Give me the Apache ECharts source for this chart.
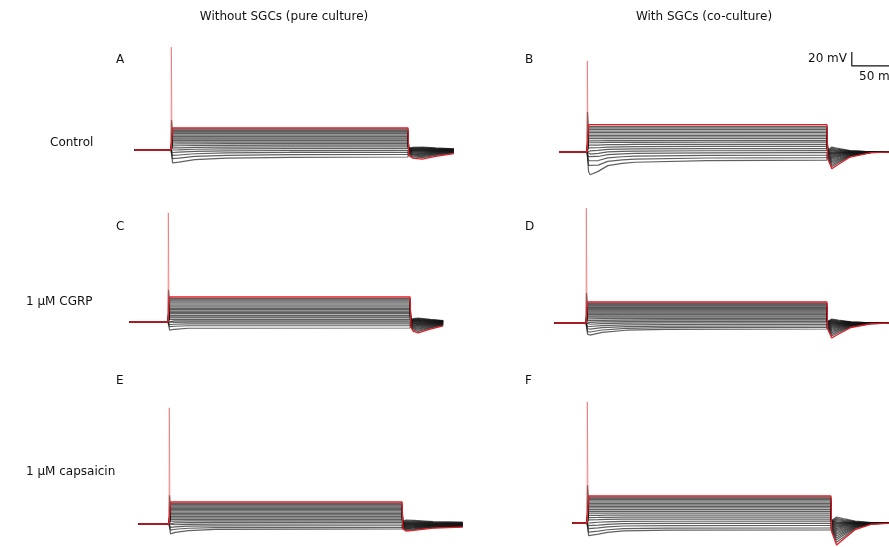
<!DOCTYPE html>
<html>
<head>
<meta charset="utf-8">
<script src="https://cdn.jsdelivr.net/npm/echarts@6/dist/echarts.min.js"></script>
<style>
html, body { margin: 0; padding: 0; background: #fff; }
#chart { width: 889px; height: 547px; }
</style>
</head>
<body>
<div id="chart"></div>
<script>
// Membrane potential responses to a family of current steps.
// Every trace: rest -> step (onset at 0 ms, 300 ms long) -> recovery.
const restMV = -60;
const stepMS = 300;

// ---- A: pure culture, control ----
const startA = -46;
const spikeA = [87, -17];            // [red transient peak, grey transient peak] (mV)
const plateauA = [-28.6, -30.3, -32, -33.7, -35.4, -37.1, -38.9, -40.7, -42.6, -44.6, -46.6, -48.7, -50.9, -53.1, -55.6, -58, -60.6, -63.3, -66.4, -70];
const sagA = [0, 0, 0, 0, 0, 0, 0, 0, 0, 0, 0, 0, 0.5, 1, 1.5, 2, 3, 4.5, 6, 8.5];
const postA = [-13, -11, -9.5, -8, -7, -6, -5, -4, -3.2, -2.5, -1.8, -1.2, -0.6, 0, 0.6, 1.2, 2, 2.8, 3.5, 4.3];
const sagTimeA = [2, 10, 30, 70, 150, 300];
const sagFracA = [1, 0.85, 0.45, 0.2, 0.05, 0];
const postTimeA = [1, 6, 18, 35, 58];
const postFracA = [0.6, 0.9, 1, 0.7, 0.4];

// ---- B: co-culture, control ----
const startB = -35;
const spikeB = [70, -3];
const plateauB = [-21, -23.5, -25.5, -27.8, -30, -32, -34.3, -36.5, -38.6, -41, -43.6, -46, -49, -52, -55, -58, -61, -64.5, -68, -71.5];
const sagB = [0, 0, 0, 0, 0, 0, 0, 0, 0, 0, 0.5, 1, 1.5, 2.5, 3.5, 5, 7, 10, 14, 21];
const postB = [-24, -21, -18.5, -16, -14, -12, -10, -8.5, -7, -5.5, -4, -3, -2, -1, 0, 1.2, 2.5, 3.8, 5.3, 7];
const sagTimeB = [2, 4, 14, 26, 44, 60, 150, 300];
const sagFracB = [0.8, 1, 0.77, 0.38, 0.23, 0.15, 0.04, 0];
const postTimeB = [1, 6, 12, 29, 55, 85];
const postFracB = [0.4, 1, 0.8, 0.3, 0.04, 0];

// ---- C: pure culture, 1 µM CGRP ----
const startC = -48;
const spikeC = [96, -14];
const plateauC = [-24.3, -26.5, -28.4, -30.2, -32.5, -34.3, -36.1, -38.4, -40.5, -42.2, -44.4, -46.3, -48.1, -50.4, -52.5, -54.2, -56.4, -58.3, -60.2, -62.6, -65.2, -68.6];
const sagC = [0, 0, 0, 0, 0, 0, 0, 0, 0, 0, 0, 0, 0, 0, 0, 0, 0, 0, 0.5, 1, 1.5, 3];
const postC = [-15.7, -13.5, -11.8, -10.2, -8.8, -7.5, -6.3, -5.2, -4.2, -3.3, -2.4, -1.6, -0.8, 0, 0.7, 1.4, 2.1, 2.8, 3.5, 4.2, 5, 5.7];
const sagTimeC = [2, 8, 25, 300];
const sagFracC = [1, 0.6, 0.1, 0];
const postTimeC = [1, 4, 10, 25, 41];
const postFracC = [0.5, 0.85, 1, 0.65, 0.35];

// ---- D: co-culture, 1 µM CGRP ----
const startD = -39;
const spikeD = [104, -17];
const plateauD = [-30, -31.5, -33, -34.5, -36, -37.6, -39.2, -40.8, -42.5, -44.2, -46, -47.8, -49.7, -51.6, -53.6, -55.6, -57.7, -59.8, -62, -64.2, -66.4, -68.6];
const sagD = [0, 0, 0, 0, 0, 0, 0, 0, 0, 0, 0, 0, 0, 0, 0.5, 1, 1.5, 2, 3, 4.5, 6.5, 8.6];
const postD = [-21.4, -18.6, -16.2, -14, -12.1, -10.4, -8.9, -7.5, -6.2, -5, -3.9, -2.9, -2, -1.1, -0.3, 0.5, 1.3, 2.1, 2.9, 3.8, 4.7, 5.7];
const sagTimeD = [2, 5, 20, 50, 100, 300];
const sagFracD = [0.9, 1, 0.55, 0.2, 0.05, 0];
const postTimeD = [1, 6, 14, 30, 55, 85];
const postFracD = [0.4, 1, 0.75, 0.3, 0.05, 0];

// ---- E: pure culture, 1 µM capsaicin ----
const startE = -39;
const spikeE = [106, -19];
const plateauE = [-28.6, -30.4, -32.2, -34, -35.8, -37.6, -39.4, -41.3, -43.2, -45.1, -47.1, -49.1, -51.2, -53.3, -55.5, -57.7, -60, -62.3, -64.7, -67.1];
const sagE = [0, 0, 0, 0, 0, 0, 0, 0, 0, 0, 0, 0, 0, 0, 0.5, 1, 1.5, 2.5, 4, 7];
const postE = [-10, -8.8, -7.7, -6.7, -5.8, -5, -4.2, -3.4, -2.7, -2, -1.3, -0.6, 0, 0.6, 1.3, 2, 2.8, 3.6, 4.6, 5.7];
const sagTimeE = [2, 8, 25, 60, 300];
const sagFracE = [1, 0.7, 0.35, 0.1, 0];
const postTimeE = [1, 5, 15, 40, 78];
const postFracE = [0.7, 1, 0.9, 0.6, 0.45];

// ---- F: co-culture, 1 µM capsaicin ----
const startF = -18;
const spikeF = [113, -6];
const plateauF = [-21.4, -23, -24.7, -26.4, -28.2, -30, -32, -34, -36.2, -38.5, -40.9, -43.4, -46, -48.7, -51.5, -54.4, -57.4, -60.5, -63.6, -67, -70];
const sagF = [0, 0, 0, 0, 0, 0, 0, 0, 0, 0, 0, 0, 0, 0.5, 1, 1.5, 2.5, 4, 5.5, 7.5, 10];
const postF = [-31.4, -27.5, -24, -21, -18.3, -15.8, -13.5, -11.4, -9.5, -7.7, -6, -4.5, -3.1, -1.8, -0.6, 0.6, 1.8, 3.2, 4.8, 6.6, 8.6];
const sagTimeF = [2, 4, 14, 25, 45, 100, 300];
const sagFracF = [0.8, 1, 0.6, 0.35, 0.12, 0.03, 0];
const postTimeF = [1, 7, 15, 30, 50, 80];
const postFracF = [0.4, 1, 0.75, 0.3, 0.05, 0];

// Scale bar
const scaleBarMV = 20;
const scaleBarMS = 50;

const panels = [
  { start: startA, spike: spikeA, plateau: plateauA, sag: sagA, post: postA, sagT: sagTimeA, sagF: sagFracA, postT: postTimeA, postF: postFracA },
  { start: startB, spike: spikeB, plateau: plateauB, sag: sagB, post: postB, sagT: sagTimeB, sagF: sagFracB, postT: postTimeB, postF: postFracB },
  { start: startC, spike: spikeC, plateau: plateauC, sag: sagC, post: postC, sagT: sagTimeC, sagF: sagFracC, postT: postTimeC, postF: postFracC },
  { start: startD, spike: spikeD, plateau: plateauD, sag: sagD, post: postD, sagT: sagTimeD, sagF: sagFracD, postT: postTimeD, postF: postFracD },
  { start: startE, spike: spikeE, plateau: plateauE, sag: sagE, post: postE, sagT: sagTimeE, sagF: sagFracE, postT: postTimeE, postF: postFracE },
  { start: startF, spike: spikeF, plateau: plateauF, sag: sagF, post: postF, sagT: sagTimeF, sagF: sagFracF, postT: postTimeF, postF: postFracF }
];

// ---- page layout (pixels) ----
const pxPerMV = 0.7;
const layout = [
  { onsetX: 171, restY: 150, pxPerMs: 0.79,  box: [115, 40, 360, 150] },
  { onsetX: 587, restY: 152, pxPerMs: 0.80,  box: [540, 40, 349, 150] },
  { onsetX: 168, restY: 322, pxPerMs: 0.807, box: [110, 200, 360, 150] },
  { onsetX: 586, restY: 323, pxPerMs: 0.803, box: [540, 200, 349, 150] },
  { onsetX: 169, restY: 524, pxPerMs: 0.777, box: [110, 395, 360, 152] },
  { onsetX: 587, restY: 523, pxPerMs: 0.813, box: [540, 395, 349, 152] }
];
const scaleBarAnchor = { panel: 1, t: 331, v: 63 };

const FONT = 'DejaVu Sans';
const grid = [], xAxis = [], yAxis = [], series = [];

function traceData(p, i) {
  const pts = [[p.start, restMV], [0, restMV]];
  p.sagT.forEach((t, k) => pts.push([t, p.plateau[i] - p.sag[i] * p.sagF[k]]));
  pts.push([stepMS, p.plateau[i]]);
  p.postT.forEach((t, k) => pts.push([stepMS + t, restMV + p.post[i] * p.postF[k]]));
  return pts;
}

function lineSeries(idx, data, color, width, z, clip) {
  return {
    type: 'line', xAxisIndex: idx, yAxisIndex: idx, data: data, clip: clip !== false,
    showSymbol: false, symbol: 'none', silent: true, animation: false, z: z,
    lineStyle: { color: color, width: width }
  };
}

panels.forEach((p, idx) => {
  const L = layout[idx];
  const [left, top, width, height] = L.box;
  grid.push({ left: left, top: top, width: width, height: height, containLabel: false });
  xAxis.push({ type: 'value', gridIndex: idx, show: false,
    min: (left - L.onsetX) / L.pxPerMs, max: (left + width - L.onsetX) / L.pxPerMs });
  yAxis.push({ type: 'value', gridIndex: idx, show: false, scale: true,
    max: restMV + (L.restY - top) / pxPerMV, min: restMV - (top + height - L.restY) / pxPerMV });

  // grey traces, most hyperpolarised first
  for (let i = p.plateau.length - 1; i >= 1; i--) {
    series.push(lineSeries(idx, traceData(p, i), 'rgba(20,20,20,0.68)', 1.2, 2));
  }
  // short grey onset transient
  series.push(lineSeries(idx, [[0, restMV], [0.6, p.spike[1]], [1.6, p.plateau[1]]], 'rgba(30,30,30,0.7)', 1.2, 3));
  // most depolarised trace in red
  series.push(lineSeries(idx, traceData(p, 0), '#dc1f26', 1.3, 4));
  series.push(lineSeries(idx, [[0, restMV], [0.4, p.spike[0]], [1.2, p.plateau[0]]], 'rgba(235,70,70,0.5)', 1, 4));
});

// 20 mV / 50 ms scale bar in panel B coordinates
{
  const a = scaleBarAnchor;
  series.push(lineSeries(a.panel, [[a.t, a.v + scaleBarMV], [a.t, a.v], [a.t + scaleBarMS, a.v]], '#111', 1.2, 5, false));
}

function txt(text, x, y, align) {
  return { type: 'text', x: x, y: y, silent: true,
    style: { text: text, fill: '#111', font: '12px "' + FONT + '"', textAlign: align || 'left', textVerticalAlign: 'middle' } };
}

const graphic = [
  txt('Without SGCs (pure culture)', 284, 17, 'center'),
  txt('With SGCs (co-culture)', 704, 17, 'center'),
  txt('Control', 50, 143),
  txt('1 μM CGRP', 26, 302),
  txt('1 μM capsaicin', 26, 472),
  txt('A', 116, 60), txt('B', 525, 60),
  txt('C', 116, 227), txt('D', 525, 227),
  txt('E', 116, 381), txt('F', 525, 381),
  txt(scaleBarMV + ' mV', 847, 59, 'right'),
  txt(scaleBarMS + ' ms', 859, 77)
];

const chart = echarts.init(document.getElementById('chart'), null, { renderer: 'canvas' });
chart.setOption({
  animation: false,
  backgroundColor: '#fff',
  grid: grid, xAxis: xAxis, yAxis: yAxis, series: series, graphic: graphic
});
</script>
</body>
</html>
